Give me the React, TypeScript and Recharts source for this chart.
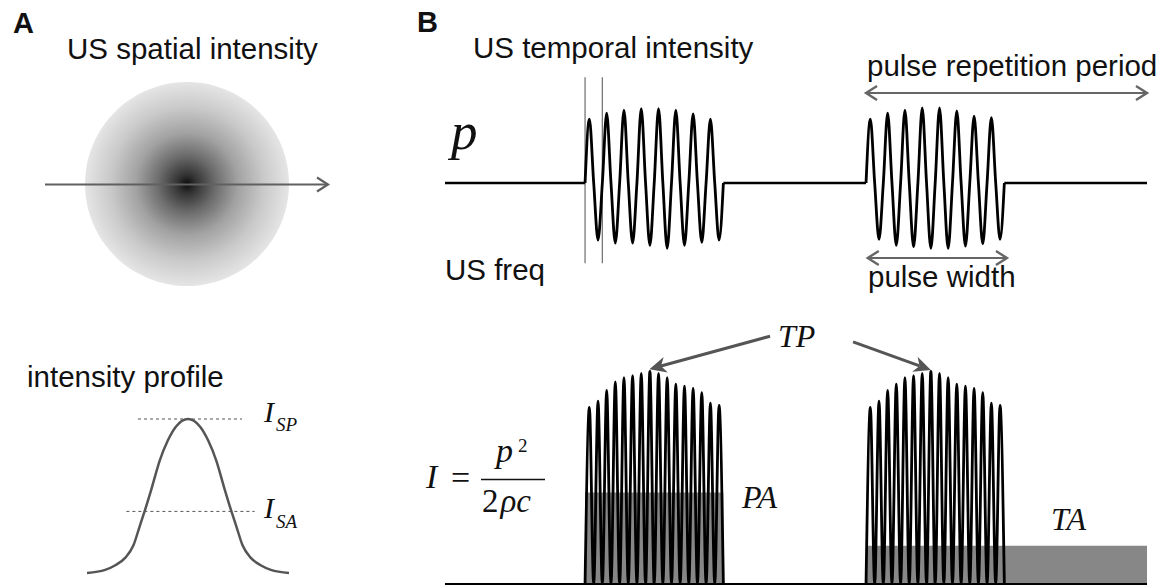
import React from 'react';
import { PieChart, Pie, Cell, LineChart, ComposedChart, Line, Area, XAxis, YAxis, ReferenceLine } from 'recharts';

// A: beam cross-section, one disc shaded by a radial gradient
const beamSpot = [{ name: 'focal spot', value: 1 }];

// A: lateral intensity profile (position, normalised intensity)
const profilePos = [-10, -8.2, -7.2, -6.2, -5.4, -4.8, -4.3, -3.6, -2.8, -2.0, -1.2, 0, 1.2, 2.0, 2.8, 3.6, 4.3, 4.8, 5.4, 6.2, 7.2, 8.2, 10];
const profileInt = [0, 0.02, 0.05, 0.1, 0.18, 0.3, 0.4, 0.55, 0.73, 0.86, 0.95, 1, 0.95, 0.86, 0.73, 0.55, 0.4, 0.3, 0.18, 0.1, 0.05, 0.02, 0];
const spatialPeak = 1.0; // I_SP
const spatialAvg = 0.4; // I_SA

// B: timing, in carrier cycles
const timeRange = [-8.1, 32.5];
const pulseStarts = [0, 16.25];
const pulseCycles = 8;

// B: pressure, positive peak / negative trough size per cycle
const burst1Peaks = [0.85, 0.93, 0.97, 0.99, 0.99, 0.97, 0.92, 0.85];
const burst1Troughs = [0.76, 0.8, 0.8, 0.83, 0.87, 0.83, 0.79, 0.76];
const burst2Peaks = [0.85, 0.93, 0.97, 1.0, 1.0, 0.96, 0.89, 0.87];
const burst2Troughs = [0.75, 0.83, 0.85, 0.87, 0.87, 0.84, 0.81, 0.75];

// B: intensity, one value per half cycle
const burst1Intensity = [0.83, 0.86, 0.91, 0.95, 0.97, 0.98, 0.99, 1.0, 0.99, 0.97, 0.94, 0.93, 0.92, 0.9, 0.85, 0.84];
const burst2Intensity = [0.83, 0.86, 0.91, 0.94, 0.97, 0.98, 0.99, 1.0, 0.99, 0.97, 0.94, 0.93, 0.92, 0.9, 0.85, 0.84];
const pulseAverage = 0.43; // PA
const temporalAverage = 0.18; // TA

const profileData = profilePos.map((x, i) => ({ x, v: profileInt[i] }));

const pressureBurst = (start: number, peaks: number[], troughs: number[]) => {
  const pts: { t: number; p: number }[] = [];
  peaks.forEach((pk, i) => {
    pts.push({ t: start + i, p: 0 });
    pts.push({ t: start + i + 0.25, p: pk });
    pts.push({ t: start + i + 0.5, p: 0 });
    pts.push({ t: start + i + 0.75, p: -troughs[i] });
  });
  pts.push({ t: start + peaks.length, p: 0 });
  return pts;
};

const intensityBurst = (start: number, peaks: number[]) => {
  const pts: { t: number; p: number }[] = [];
  peaks.forEach((pk, i) => {
    pts.push({ t: start + i * 0.5, p: 0 });
    pts.push({ t: start + i * 0.5 + 0.25, p: pk });
  });
  pts.push({ t: start + peaks.length * 0.5, p: 0 });
  return pts;
};

const bursts = [
  pressureBurst(pulseStarts[0], burst1Peaks, burst1Troughs),
  pressureBurst(pulseStarts[1], burst2Peaks, burst2Troughs),
];
const intensityBursts = [
  intensityBurst(pulseStarts[0], burst1Intensity),
  intensityBurst(pulseStarts[1], burst2Intensity),
];
const quietSegments = [
  [timeRange[0], pulseStarts[0]],
  [pulseStarts[0] + pulseCycles, pulseStarts[1]],
  [pulseStarts[1] + pulseCycles, timeRange[1]],
].map(([a, b]) => [{ t: a, p: 0 }, { t: b, p: 0 }]);

const paBand = [{ t: pulseStarts[0], p: pulseAverage }, { t: pulseStarts[0] + pulseCycles, p: pulseAverage }];
const taBand = [{ t: pulseStarts[1], p: temporalAverage }, { t: timeRange[1], p: temporalAverage }];

const sans = '"Liberation Sans", Arial, sans-serif';
const serif = '"Liberation Serif", "Times New Roman", serif';

const chevron = (x: number, y: number, dir: number) => `M${x - dir * 11},${y - 7} L${x},${y} L${x - dir * 11},${y + 7}`;

const doubleArrow = (props: any) => {
  const { x1, y1, x2, y2 } = props;
  return (
    <g>
      <line x1={x1} y1={y1} x2={x2} y2={y2} stroke="#666" strokeWidth={2} />
      <path d={chevron(x1, y1, -1)} fill="none" stroke="#666" strokeWidth={2.4} />
      <path d={chevron(x2, y2, 1)} fill="none" stroke="#666" strokeWidth={2.4} />
    </g>
  );
};

const solidArrow = (props: any) => {
  const { x1, y1, x2, y2 } = props;
  const a = Math.atan2(y2 - y1, x2 - x1);
  const len = 17;
  const half = 8;
  const bx = x2 - len * Math.cos(a);
  const by = y2 - len * Math.sin(a);
  const nx = bx + 5 * Math.cos(a);
  const ny = by + 5 * Math.sin(a);
  return (
    <g>
      <line x1={x1} y1={y1} x2={nx} y2={ny} stroke="#555" strokeWidth={3} />
      <path
        d={`M${x2},${y2} L${bx + half * Math.sin(a)},${by - half * Math.cos(a)} L${nx},${ny} L${bx - half * Math.sin(a)},${by + half * Math.cos(a)} Z`}
        fill="#555"
      />
    </g>
  );
};

export default function App() {
  return (
    <div style={{ position: 'absolute', left: 0, top: 0, width: 1165, height: 585, overflow: 'hidden', background: '#fff' }}>
      <svg width={0} height={0} style={{ position: 'absolute' }}>
        <defs>
          <radialGradient id="beamGradient" cx="50%" cy="50%" r="50%">
            <stop offset="0%" stopColor="#0e0e0e" />
            <stop offset="10%" stopColor="#363636" />
            <stop offset="28%" stopColor="#6c6c6c" />
            <stop offset="50%" stopColor="#a2a2a2" />
            <stop offset="75%" stopColor="#c9c9c9" />
            <stop offset="100%" stopColor="#e5e5e5" />
          </radialGradient>
        </defs>
      </svg>

      {/* A: spot */}
      <div style={{ position: 'absolute', left: 82, top: 79 }}>
        <PieChart width={210} height={210} margin={{ top: 0, right: 0, bottom: 0, left: 0 }}>
          <Pie data={beamSpot} dataKey="value" cx={105} cy={105} innerRadius={0} outerRadius={102}
            startAngle={90} endAngle={-270} stroke="none" isAnimationActive={false}>
            {beamSpot.map((d) => <Cell key={d.name} fill="url(#beamGradient)" />)}
          </Pie>
        </PieChart>
      </div>

      {/* A: profile */}
      <div style={{ position: 'absolute', left: 77, top: 409 }}>
        <LineChart width={222} height={174} data={profileData} margin={{ top: 10, right: 10, bottom: 10, left: 10 }}>
          <XAxis type="number" dataKey="x" domain={[-10, 10]} hide />
          <YAxis type="number" domain={[0, 1]} hide />
          <ReferenceLine segment={[{ x: -4.95, y: spatialPeak }, { x: 5.35, y: spatialPeak }]} stroke="#555" strokeDasharray="3 3" strokeWidth={1} ifOverflow="visible" />
          <ReferenceLine segment={[{ x: -6.1, y: spatialAvg }, { x: 6.6, y: spatialAvg }]} stroke="#555" strokeDasharray="3 3" strokeWidth={1} ifOverflow="visible" />
          <Line type="monotone" dataKey="v" stroke="#555" strokeWidth={2.5} dot={false} activeDot={false} isAnimationActive={false} />
        </LineChart>
      </div>

      {/* B: pressure */}
      <div style={{ position: 'absolute', left: 435, top: 53 }}>
        <LineChart width={722} height={230} margin={{ top: 10, right: 10, bottom: 10, left: 10 }}>
          <XAxis type="number" dataKey="t" domain={timeRange} hide />
          <YAxis type="number" domain={[-1.2, 1.6]} hide />
          <ReferenceLine segment={[{ x: 0, y: -1.07 }, { x: 0, y: 1.41 }]} stroke="#777" strokeWidth={1.3} ifOverflow="visible" />
          <ReferenceLine segment={[{ x: 1, y: -1.07 }, { x: 1, y: 1.41 }]} stroke="#777" strokeWidth={1.3} ifOverflow="visible" />
          {quietSegments.map((seg, i) => (
            <Line key={`q${i}`} data={seg} type="linear" dataKey="p" stroke="#000" strokeWidth={2.6} dot={false} activeDot={false} isAnimationActive={false} />
          ))}
          {bursts.map((b, i) => (
            <Line key={`b${i}`} data={b} type="monotone" dataKey="p" stroke="#000" strokeWidth={2.8} dot={false} activeDot={false} isAnimationActive={false} />
          ))}
          <ReferenceLine segment={[{ x: pulseStarts[1], y: 1.2 }, { x: timeRange[1], y: 1.2 }]} shape={doubleArrow} ifOverflow="visible" />
          <ReferenceLine segment={[{ x: pulseStarts[1] + 0.1, y: -1.0 }, { x: pulseStarts[1] + pulseCycles + 0.15, y: -1.0 }]} shape={doubleArrow} ifOverflow="visible" />
        </LineChart>
      </div>

      {/* B: intensity */}
      <div style={{ position: 'absolute', left: 435, top: 306 }}>
        <ComposedChart width={722} height={279} margin={{ top: 10, right: 10, bottom: 1, left: 10 }}>
          <XAxis type="number" dataKey="t" domain={timeRange} hide />
          <YAxis type="number" domain={[0, 1.26]} hide />
          <Area data={paBand} type="linear" dataKey="p" stroke="none" fill="#878787" fillOpacity={1} dot={false} activeDot={false} isAnimationActive={false} />
          <Area data={taBand} type="linear" dataKey="p" stroke="none" fill="#878787" fillOpacity={1} dot={false} activeDot={false} isAnimationActive={false} />
          <Line data={[{ t: timeRange[0], p: 0 }, { t: timeRange[1], p: 0 }]} type="linear" dataKey="p" stroke="#000" strokeWidth={2} dot={false} activeDot={false} isAnimationActive={false} />
          {intensityBursts.map((b, i) => (
            <Line key={`i${i}`} data={b} type="monotone" dataKey="p" stroke="#000" strokeWidth={2.8} dot={false} activeDot={false} isAnimationActive={false} />
          ))}
          <ReferenceLine segment={[{ x: 10.7, y: 1.165 }, { x: 3.72, y: 1.01 }]} shape={solidArrow} ifOverflow="visible" />
          <ReferenceLine segment={[{ x: 15.5, y: 1.138 }, { x: 20.0, y: 1.006 }]} shape={solidArrow} ifOverflow="visible" />
        </ComposedChart>
      </div>

      {/* labels and annotations */}
      <svg width={1165} height={585} style={{ position: 'absolute', left: 0, top: 0, pointerEvents: 'none' }}>
        <g fontFamily={sans} fill="#111">
          <text x={13} y={33} fontSize={29} fontWeight="bold">A</text>
          <text x={417} y={32} fontSize={29} fontWeight="bold">B</text>
          <text x={67} y={59} fontSize={29.5}>US spatial intensity</text>
          <text x={27} y={387} fontSize={29.5}>intensity profile</text>
          <text x={473} y={58} fontSize={29.5}>US temporal intensity</text>
          <text x={867} y={76} fontSize={29.5}>pulse repetition period</text>
          <text x={445} y={280} fontSize={29.5}>US freq</text>
          <text x={868} y={287} fontSize={29.5}>pulse width</text>
        </g>
        <line x1={45} y1={184.5} x2={328} y2={184.5} stroke="#606060" strokeWidth={2} />
        <path d={chevron(328, 184.5, 1)} fill="none" stroke="#606060" strokeWidth={2.2} />
        <g fontFamily={serif} fill="#111" fontStyle="italic">
          <text x={451} y={149} fontSize={53}>p</text>
          <text x={264} y={422} fontSize={30}>I</text>
          <text x={276} y={431} fontSize={19}>SP</text>
          <text x={264} y={518} fontSize={30}>I</text>
          <text x={276} y={528} fontSize={19}>SA</text>
          <text x={742} y={508} fontSize={32}>PA</text>
          <text x={778} y={347} fontSize={32}>TP</text>
          <text x={1051} y={530} fontSize={32}>TA</text>
          <text x={426} y={488} fontSize={34}>I</text>
          <text x={451} y={489} fontSize={34} fontStyle="normal">=</text>
          <text x={496} y={462} fontSize={34}>p</text>
          <text x={518} y={452} fontSize={19} fontStyle="normal">2</text>
          <line x1={481} y1={479.5} x2={545} y2={479.5} stroke="#111" strokeWidth={1.6} />
          <text x={482} y={512} fontSize={33}>
            <tspan fontStyle="normal">2</tspan>
            <tspan dx={2}>ρ</tspan>
            <tspan dx={0}>c</tspan>
          </text>
        </g>
      </svg>
    </div>
  );
}
